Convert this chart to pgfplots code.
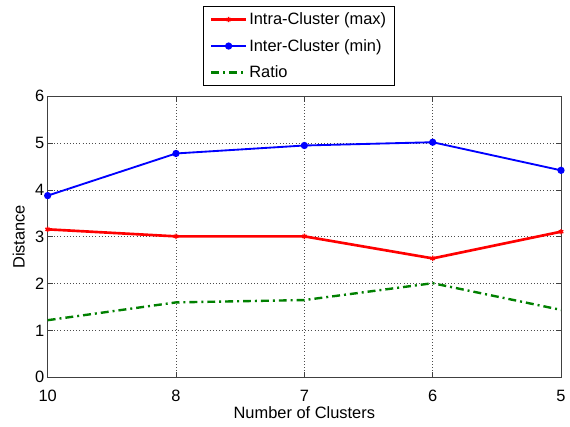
\documentclass[border=0pt]{standalone}
\usepackage{pgfplots}
\pgfplotsset{compat=1.18}
\usepackage{fontspec}
\setmainfont{Liberation Sans}
\setsansfont{Liberation Sans}
\definecolor{mgreen}{rgb}{0,0.5,0}
\definecolor{axgray}{rgb}{0.25,0.25,0.25}
\begin{document}
\begin{tikzpicture}[font=\fontsize{12.4}{14}\selectfont]
\begin{axis}[
  name=ax,
  scale only axis,
  width=387.75pt, height=212.25pt,
  xmin=0, xmax=4, ymin=0, ymax=6,
  xtick={0,1,2,3,4},
  xticklabels={10,8,7,6,5},
  ytick={0,1,2,3,4,5,6},
  tick align=inside,
  major tick length=4pt,
  tick style={axgray, line width=0.5pt},
  axis line style={axgray, line width=0.6pt},
  grid=major,
  major grid style={dotted, black!70, line width=0.5pt},
  /pgf/number format/assume math mode=true,
  xticklabel style={yshift=-6pt},
  yticklabel style={xshift=1pt},
  xlabel={Number of Clusters},
  ylabel={Distance},
  xlabel style={yshift=3pt},
  ylabel style={yshift=1pt},
  legend style={at={(axis description cs:0.5,1)}, anchor=south, yshift=8pt, xshift=-4pt,
    draw=black, line width=0.5pt, row sep=6.5pt, inner xsep=5pt, inner ysep=3pt,
    nodes={inner sep=1.5pt}},
  legend cell align=left,
  legend image code/.code={\draw[#1] (0cm,0cm) -- (0.92cm,0cm); \draw[#1, mark repeat=1] plot coordinates {(0.46cm,0cm)};},
]
\addplot[red, line width=2pt, mark=asterisk, mark size=2pt, mark options={solid, line width=1pt}]
  coordinates {(0,3.16) (1,3.01) (2,3.01) (3,2.54) (4,3.11)};
\addlegendentry{Intra-Cluster (max)}
\addplot[blue, line width=1.4pt, mark=*, mark size=2pt, mark options={solid}]
  coordinates {(0,3.88) (1,4.78) (2,4.95) (3,5.02) (4,4.42)};
\addlegendentry{Inter-Cluster (min)}
\addplot[mgreen, line width=1.8pt, dash pattern=on 6pt off 3pt on 1.5pt off 3pt]
  coordinates {(0,1.22) (1,1.60) (2,1.65) (3,2.01) (4,1.44)};
\addlegendentry{Ratio}
\end{axis}
\path (ax.south west) ++(-36pt,-37.5pt) rectangle ++(427.5pt,322.5pt);
\end{tikzpicture}
\end{document}
